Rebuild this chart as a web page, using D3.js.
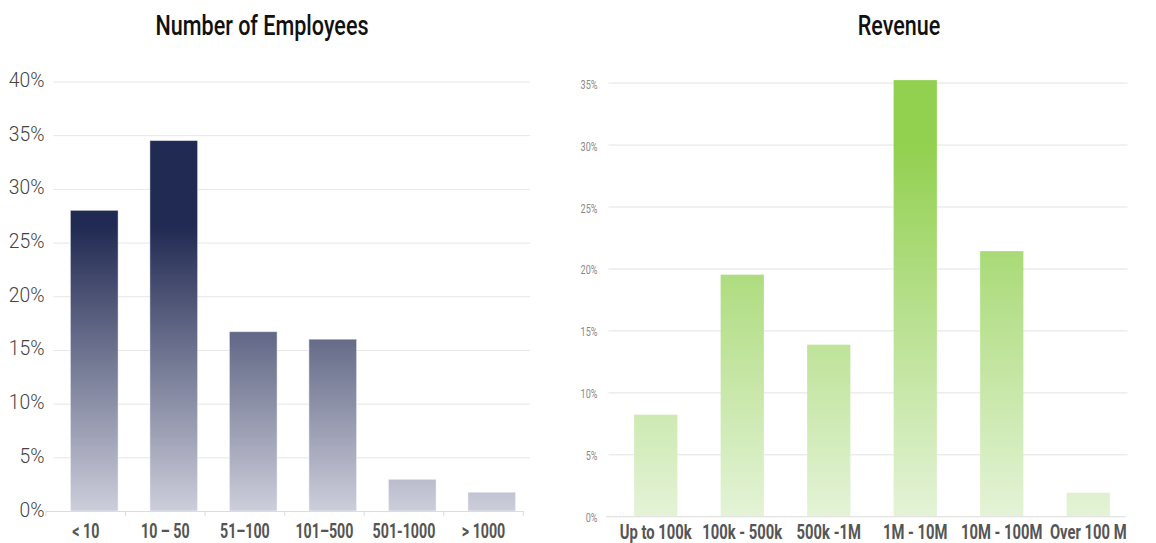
<!DOCTYPE html>
<html>
<head>
<meta charset="utf-8">
<script src="https://cdn.jsdelivr.net/npm/d3@7"></script>
<style>
  html, body { margin: 0; padding: 0; background: #ffffff; }
  svg { display: block; }
  text { font-family: Roboto, "Liberation Sans", sans-serif; }
</style>
</head>
<body>
<svg id="chart" width="1156" height="543"></svg>
<script>
// ---- Data ----
const empCategories = ["< 10", "10 – 50", "51–100", "101–500", "501-1000", "> 1000"];
const empValues = [28.0, 34.5, 16.7, 16.0, 2.95, 1.75];
const empTicks = [0, 5, 10, 15, 20, 25, 30, 35, 40];

const revCategories = ["Up to 100k", "100k - 500k", "500k -1M", "1M - 10M", "10M - 100M", "Over 100 M"];
const revValues = [8.2, 19.5, 13.85, 35.2, 21.4, 1.9];
const revTicks = [0, 5, 10, 15, 20, 25, 30, 35];

const titles = ["Number of Employees", "Revenue"];

const svg = d3.select("#chart");
const defs = svg.append("defs");

// condense a text selection horizontally around its anchor
function condense(sel, k) {
  sel.each(function() {
    const t = d3.select(this);
    const x = +t.attr("x") || 0, y = +t.attr("y") || 0;
    t.attr("x", 0).attr("y", 0)
     .attr("transform", `translate(${x},${y}) scale(${k},1)`);
  });
}

// ================= LEFT: Number of Employees =================
{
  const y = d3.scaleLinear().domain([0, 40]).range([511, 81.5]);
  const x = d3.scaleBand().domain(empCategories).range([54.5, 531.5])
    .paddingInner(0.4).paddingOuter(0.2);
  const xAxisScale = d3.scaleBand().domain(empCategories).range([46, 523.3]);

  const grad = defs.append("linearGradient").attr("id", "gEmp")
    .attr("gradientUnits", "userSpaceOnUse")
    .attr("x1", 0).attr("x2", 0).attr("y1", y(26.5)).attr("y2", y(0));
  grad.append("stop").attr("offset", 0).attr("stop-color", "#212a52");
  grad.append("stop").attr("offset", 1).attr("stop-color", "#cdcedb");

  // gridlines
  svg.append("g").attr("transform", "translate(53.3,0)")
    .call(d3.axisLeft(y).tickValues(empTicks.filter(d => d > 0)).tickSize(-476.7).tickFormat(""))
    .call(g => g.select(".domain").remove())
    .call(g => g.selectAll("line").attr("stroke", "#e6e6e6").attr("stroke-width", 1));

  // y labels
  const yl = svg.append("g").attr("transform", "translate(44.5,0)")
    .call(d3.axisLeft(y).tickValues(empTicks).tickSize(0).tickPadding(0).tickFormat(d => d + "%"))
    .call(g => g.select(".domain").remove());
  yl.selectAll("text").attr("x", 0).attr("dy", null).attr("y", 5)
    .attr("font-size", 21).attr("font-weight", 300).attr("fill", "#444")
    .attr("text-anchor", "end");
  condense(yl.selectAll("text"), 0.92);

  // bars
  svg.append("g").selectAll("rect").data(empValues).join("rect")
    .attr("x", (d, i) => x(empCategories[i]))
    .attr("width", x.bandwidth())
    .attr("y", d => y(d))
    .attr("height", d => y(0) - y(d))
    .attr("fill", "url(#gEmp)")
    .attr("stroke", "rgba(255,255,255,0.45)")
    .attr("stroke-width", 1);

  // x axis (baseline + ticks)
  const xa = svg.append("g").attr("transform", `translate(0,${y(0)})`)
    .call(d3.axisBottom(xAxisScale).tickSize(0).tickPadding(0));
  xa.select(".domain").attr("stroke", "#dcdcdc").attr("d", `M46,0.5H523.3`);
  const edges = empCategories.map(c => xAxisScale(c)).concat([xAxisScale.range()[1]]);
  xa.selectAll(".edge").data(edges).join("line").attr("class", "edge")
    .attr("x1", d => d).attr("x2", d => d).attr("y1", 0).attr("y2", 5)
    .attr("stroke", "#dcdcdc");
  xa.selectAll(".tick text").attr("y", 26.8).attr("dy", null)
    .attr("font-size", 19.5).attr("font-weight", 700).attr("fill", "#555");
  condense(xa.selectAll(".tick text"), 0.73);

  // title
  svg.append("text").attr("x", 262).attr("y", 35).attr("text-anchor", "middle")
    .attr("font-size", 28).attr("font-weight", 500).attr("fill", "#111")
    .text(titles[0])
    .call(s => condense(s, 0.77));
}

// ================= RIGHT: Revenue =================
{
  const y = d3.scaleLinear().domain([0, 35]).range([516.3, 82.6]);
  const x = d3.scaleBand().domain(revCategories).range([612.5, 1131.5])
    .paddingInner(0.5).paddingOuter(0.25);

  const grad = defs.append("linearGradient").attr("id", "gRev")
    .attr("gradientUnits", "userSpaceOnUse")
    .attr("x1", 0).attr("x2", 0).attr("y1", y(30)).attr("y2", y(0));
  grad.append("stop").attr("offset", 0).attr("stop-color", "#92d050");
  grad.append("stop").attr("offset", 1).attr("stop-color", "#e4f3d7");

  // gridlines
  svg.append("g").attr("transform", "translate(608.5,0)")
    .call(d3.axisLeft(y).tickValues(revTicks.filter(d => d > 0)).tickSize(-519).tickFormat(""))
    .call(g => g.select(".domain").remove())
    .call(g => g.selectAll("line").attr("stroke", "#e2e2e2").attr("stroke-width", 1));

  // y labels
  const yl = svg.append("g").attr("transform", "translate(597.5,0)")
    .call(d3.axisLeft(y).tickValues(revTicks).tickSize(0).tickPadding(0).tickFormat(d => d + "%"))
    .call(g => g.select(".domain").remove());
  yl.selectAll("text").attr("x", 0).attr("dy", null).attr("y", 5.5)
    .attr("font-size", 13).attr("font-weight", 400).attr("fill", "#8a8a8a")
    .attr("text-anchor", "end");
  condense(yl.selectAll("text"), 0.7);

  // bars
  svg.append("g").selectAll("rect").data(revValues).join("rect")
    .attr("x", (d, i) => x(revCategories[i]))
    .attr("width", x.bandwidth())
    .attr("y", d => y(d))
    .attr("height", d => y(0) - y(d))
    .attr("fill", "url(#gRev)");

  // x axis
  const xa = svg.append("g").attr("transform", `translate(0,${y(0)})`)
    .call(d3.axisBottom(x).tickSize(0).tickPadding(0));
  xa.select(".domain").attr("stroke", "#dcdcdc").attr("d", `M606,0.5H1125.7`);
  xa.selectAll(".tick text").attr("y", 23).attr("dy", null)
    .attr("font-size", 20).attr("font-weight", 700).attr("fill", "#555");
  condense(xa.selectAll(".tick text"), 0.74);

  // title
  svg.append("text").attr("x", 899).attr("y", 35).attr("text-anchor", "middle")
    .attr("font-size", 28).attr("font-weight", 500).attr("fill", "#111")
    .text(titles[1])
    .call(s => condense(s, 0.77));
}
</script>
</body>
</html>
